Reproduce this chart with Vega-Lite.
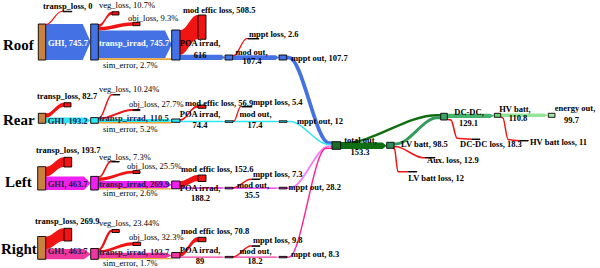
{
"$schema":"https://vega.github.io/schema/vega-lite/v6.json",
"width":600,"height":268,"padding":0,"autosize":{"type":"none"},
"background":"white",
"config":{"view":{"stroke":null}},
"datasets":{
"nodes":[
{"n":"Roof GHI","g":"brown","x":38.3,"x2":45.7,"y":24,"y2":60},
{"n":"Roof transp","g":"roof","x":90.7,"x2":98.3,"y":24,"y2":60},
{"n":"Roof POA","g":"roof","x":171.7,"x2":180,"y":30,"y2":60},
{"n":"Roof mod out","g":"roof","x":225,"x2":232.7,"y":55,"y2":60},
{"n":"Roof mppt out","g":"roof","x":279,"x2":286.7,"y":55,"y2":60},
{"n":"Roof transp_loss","g":"red","x":63,"x2":72,"y":11.3,"y2":11.8},
{"n":"Roof veg_loss","g":"red","x":112,"x2":119,"y":11.7,"y2":15},
{"n":"Roof obj_loss","g":"red","x":133,"x2":140,"y":22.3,"y2":25.7},
{"n":"Roof mod effic loss","g":"red","x":198,"x2":206,"y":15,"y2":39.3},
{"n":"Roof mppt loss","g":"red","x":248,"x2":259,"y":38.5,"y2":39},
{"n":"Rear GHI","g":"brown","x":38.3,"x2":45.7,"y":113.3,"y2":123.3},
{"n":"Rear transp","g":"rear","x":90.7,"x2":98.3,"y":117.6,"y2":123.3},
{"n":"Rear POA","g":"rear","x":171.7,"x2":180,"y":119,"y2":122.3},
{"n":"Rear mod out","g":"rear","x":225,"x2":233,"y":120.8,"y2":122.3},
{"n":"Rear mppt out","g":"rear","x":279,"x2":287,"y":120.8,"y2":122.3},
{"n":"Rear transp_loss","g":"red","x":64,"x2":71,"y":102.7,"y2":106.9},
{"n":"Rear veg_loss","g":"red","x":113,"x2":120,"y":94.5,"y2":95},
{"n":"Rear obj_loss","g":"red","x":133,"x2":140,"y":109.5,"y2":110.6},
{"n":"Rear mod effic loss","g":"red","x":198,"x2":206,"y":105,"y2":108.3},
{"n":"Rear mppt loss","g":"red","x":242,"x2":252,"y":106.5,"y2":107},
{"n":"Left GHI","g":"brown","x":37.7,"x2":45.7,"y":166.7,"y2":190},
{"n":"Left transp","g":"left","x":90.7,"x2":98.3,"y":176.4,"y2":190},
{"n":"Left POA","g":"left","x":171.7,"x2":180,"y":181,"y2":188.8},
{"n":"Left mod out","g":"left","x":225,"x2":233,"y":187.3,"y2":188.9},
{"n":"Left mppt out","g":"left","x":279,"x2":287,"y":187.3,"y2":188.9},
{"n":"Left transp_loss","g":"red","x":64,"x2":71.7,"y":157.3,"y2":167},
{"n":"Left veg_loss","g":"red","x":111.7,"x2":119.3,"y":161.5,"y2":162},
{"n":"Left obj_loss","g":"red","x":133,"x2":140,"y":170.7,"y2":173.5},
{"n":"Left mod effic loss","g":"red","x":198,"x2":206,"y":175,"y2":181.5},
{"n":"Left mppt loss","g":"red","x":252,"x2":260,"y":179,"y2":179.5},
{"n":"Right GHI","g":"brown","x":37.7,"x2":45.7,"y":236.5,"y2":259.3},
{"n":"Right transp","g":"right","x":90.7,"x2":98.3,"y":248.5,"y2":259.3},
{"n":"Right POA","g":"right","x":171.7,"x2":180,"y":252.5,"y2":258},
{"n":"Right mod out","g":"right","x":225,"x2":233,"y":256.4,"y2":257.8},
{"n":"Right mppt out","g":"right","x":279,"x2":287,"y":256.4,"y2":257.8},
{"n":"Right transp_loss","g":"red","x":64,"x2":71.7,"y":228.3,"y2":241},
{"n":"Right veg_loss","g":"red","x":112,"x2":119.3,"y":229.5,"y2":232.5},
{"n":"Right obj_loss","g":"red","x":133,"x2":140.7,"y":242.3,"y2":245.5},
{"n":"Right mod effic loss","g":"red","x":198,"x2":206,"y":237.3,"y2":241.7},
{"n":"Right mppt loss","g":"red","x":252,"x2":260,"y":245.8,"y2":246.3},
{"n":"total out","g":"tgreen","x":332,"x2":340.7,"y":141.7,"y2":149.3},
{"n":"LV batt","g":"lvgreen","x":386.7,"x2":394,"y":142.3,"y2":148.3},
{"n":"DC-DC","g":"dcgreen","x":440.7,"x2":447.3,"y":113.3,"y2":120},
{"n":"HV batt","g":"hvgreen","x":494.3,"x2":500.7,"y":113.3,"y2":117.3},
{"n":"energy out","g":"eogreen","x":548.3,"x2":555,"y":113.3,"y2":117.3},
{"n":"Aux loss","g":"red","x":425,"x2":435,"y":157.5,"y2":158},
{"n":"LV batt loss","g":"red","x":408.3,"x2":417,"y":171.5,"y2":172},
{"n":"DC-DC loss","g":"red","x":472,"x2":480,"y":139,"y2":139.5},
{"n":"HV batt loss","g":"red","x":520,"x2":528.3,"y":140.5,"y2":141}
],
"bands":[
{"id":"Roof GHI","g":"roof","x":45.7,"y":24,"y2":60},
{"id":"Roof GHI","g":"roof","x":82.7,"y":24,"y2":60},
{"id":"Roof GHI","g":"roof","x":90.7,"y":42,"y2":42},
{"id":"Roof transp","g":"roof","x":98.3,"y":30.5,"y2":58.3},
{"id":"Roof transp","g":"roof","x":165,"y":30.5,"y2":58.3},
{"id":"Roof transp","g":"roof","x":171.7,"y":44.4,"y2":44.4},
{"id":"Roof POA","g":"roof","x":180,"y":54.8,"y2":60},
{"id":"Roof POA","g":"roof","x":221.5,"y":54.8,"y2":60},
{"id":"Roof POA","g":"roof","x":225,"y":57.4,"y2":57.4},
{"id":"Roof mod","g":"roof","x":232.7,"y":55.2,"y2":60},
{"id":"Roof mod","g":"roof","x":275.5,"y":55.2,"y2":60},
{"id":"Roof mod","g":"roof","x":279,"y":57.6,"y2":57.6},
{"id":"Rear GHI","g":"rear","x":45.7,"y":117.6,"y2":123.3},
{"id":"Rear GHI","g":"rear","x":86,"y":117.6,"y2":123.3},
{"id":"Rear GHI","g":"rear","x":90.7,"y":120.45,"y2":120.45},
{"id":"Rear transp","g":"rear","x":98.3,"y":119,"y2":122.3},
{"id":"Rear transp","g":"rear","x":168,"y":119,"y2":122.3},
{"id":"Rear transp","g":"rear","x":171.7,"y":120.65,"y2":120.65},
{"id":"Rear POA","g":"rear","x":180,"y":120.8,"y2":122.3},
{"id":"Rear POA","g":"rear","x":222,"y":120.8,"y2":122.3},
{"id":"Rear POA","g":"rear","x":225,"y":121.55,"y2":121.55},
{"id":"Rear mod","g":"rear","x":233,"y":120.8,"y2":122.3},
{"id":"Rear mod","g":"rear","x":276,"y":120.8,"y2":122.3},
{"id":"Rear mod","g":"rear","x":279,"y":121.55,"y2":121.55},
{"id":"Left GHI","g":"left","x":45.7,"y":176.4,"y2":190},
{"id":"Left GHI","g":"left","x":84,"y":176.4,"y2":190},
{"id":"Left GHI","g":"left","x":90.7,"y":183.2,"y2":183.2},
{"id":"Left transp","g":"left","x":98.3,"y":181,"y2":188.6},
{"id":"Left transp","g":"left","x":166,"y":181,"y2":188.6},
{"id":"Left transp","g":"left","x":171.7,"y":184.8,"y2":184.8},
{"id":"Left POA","g":"left","x":180,"y":187.3,"y2":188.8},
{"id":"Left POA","g":"left","x":222,"y":187.3,"y2":188.8},
{"id":"Left POA","g":"left","x":225,"y":188.05,"y2":188.05},
{"id":"Left mod","g":"left","x":233,"y":187.4,"y2":188.8},
{"id":"Left mod","g":"left","x":276,"y":187.4,"y2":188.8},
{"id":"Left mod","g":"left","x":279,"y":188.1,"y2":188.1},
{"id":"Right GHI","g":"right","x":45.7,"y":249,"y2":259.3},
{"id":"Right GHI","g":"right","x":84,"y":249,"y2":259.3},
{"id":"Right GHI","g":"right","x":90.7,"y":254.15,"y2":254.15},
{"id":"Right transp","g":"right","x":98.3,"y":252.8,"y2":258.2},
{"id":"Right transp","g":"right","x":166,"y":252.8,"y2":258.2},
{"id":"Right transp","g":"right","x":171.7,"y":255.5,"y2":255.5},
{"id":"Right POA","g":"right","x":180,"y":256.4,"y2":257.8},
{"id":"Right POA","g":"right","x":222,"y":256.4,"y2":257.8},
{"id":"Right POA","g":"right","x":225,"y":257.1,"y2":257.1},
{"id":"Right mod","g":"right","x":233,"y":256.4,"y2":257.8},
{"id":"Right mod","g":"right","x":276,"y":256.4,"y2":257.8},
{"id":"Right mod","g":"right","x":279,"y":257.1,"y2":257.1},
{"id":"total LV","g":"dkgreen","x":340.7,"y":142.5,"y2":149},
{"id":"total LV","g":"dkgreen","x":382.5,"y":142.5,"y2":149},
{"id":"total LV","g":"dkgreen","x":386.7,"y":145.75,"y2":145.75},
{"id":"DC HV","g":"dcband","x":447.3,"y":113.7,"y2":118},
{"id":"DC HV","g":"dcband","x":490,"y":113.7,"y2":118},
{"id":"DC HV","g":"dcband","x":494.3,"y":115.85,"y2":115.85},
{"id":"HV EO","g":"eoband","x":500.7,"y":113.6,"y2":117},
{"id":"HV EO","g":"eoband","x":544,"y":113.6,"y2":117},
{"id":"HV EO","g":"eoband","x":548.3,"y":115.3,"y2":115.3}
],
"ribbons":[
{"id":"Roof veg","g":"red","x":98.3,"y":24,"y2":27},
{"id":"Roof veg","g":"red","x":99.5,"y":24,"y2":27},
{"id":"Roof veg","g":"red","x":111,"y":11.7,"y2":15},
{"id":"Roof veg","g":"red","x":112,"y":11.7,"y2":15},
{"id":"Roof obj","g":"red","x":98.3,"y":27,"y2":30.5},
{"id":"Roof obj","g":"red","x":99.5,"y":27,"y2":30.5},
{"id":"Roof obj","g":"red","x":132,"y":22.3,"y2":25.7},
{"id":"Roof obj","g":"red","x":133,"y":22.3,"y2":25.7},
{"id":"Roof eff","g":"red","x":180,"y":30,"y2":54.8},
{"id":"Roof eff","g":"red","x":181,"y":30,"y2":54.8},
{"id":"Roof eff","g":"red","x":197,"y":15,"y2":39.3},
{"id":"Roof eff","g":"red","x":198,"y":15,"y2":39.3},
{"id":"Rear tl","g":"red","x":45.7,"y":113.3,"y2":117.6},
{"id":"Rear tl","g":"red","x":46.7,"y":113.3,"y2":117.6},
{"id":"Rear tl","g":"red","x":63,"y":102.7,"y2":106.9},
{"id":"Rear tl","g":"red","x":64,"y":102.7,"y2":106.9},
{"id":"Rear eff","g":"red","x":180,"y":119,"y2":120.8},
{"id":"Rear eff","g":"red","x":181,"y":119,"y2":120.8},
{"id":"Rear eff","g":"red","x":197,"y":105.3,"y2":107.8},
{"id":"Rear eff","g":"red","x":198,"y":105.3,"y2":107.8},
{"id":"Left tl","g":"red","x":45.7,"y":166.7,"y2":176.4},
{"id":"Left tl","g":"red","x":46.7,"y":166.7,"y2":176.4},
{"id":"Left tl","g":"red","x":63,"y":157.3,"y2":167},
{"id":"Left tl","g":"red","x":64,"y":157.3,"y2":167},
{"id":"Left obj","g":"red","x":98.3,"y":177.5,"y2":180.9},
{"id":"Left obj","g":"red","x":99.5,"y":177.5,"y2":180.9},
{"id":"Left obj","g":"red","x":132,"y":170.7,"y2":173.5},
{"id":"Left obj","g":"red","x":133,"y":170.7,"y2":173.5},
{"id":"Left eff","g":"red","x":180,"y":181,"y2":187.3},
{"id":"Left eff","g":"red","x":181,"y":181,"y2":187.3},
{"id":"Left eff","g":"red","x":197,"y":175,"y2":181.3},
{"id":"Left eff","g":"red","x":198,"y":175,"y2":181.3},
{"id":"Right tl","g":"red","x":45.7,"y":236.5,"y2":249},
{"id":"Right tl","g":"red","x":46.7,"y":236.5,"y2":249},
{"id":"Right tl","g":"red","x":63,"y":228.3,"y2":241},
{"id":"Right tl","g":"red","x":64,"y":228.3,"y2":241},
{"id":"Right obj","g":"red","x":98.3,"y":250.3,"y2":252.8},
{"id":"Right obj","g":"red","x":99.5,"y":250.3,"y2":252.8},
{"id":"Right obj","g":"red","x":132,"y":242.3,"y2":245.5},
{"id":"Right obj","g":"red","x":133,"y":242.3,"y2":245.5},
{"id":"Right eff","g":"red","x":180,"y":252.5,"y2":256.4},
{"id":"Right eff","g":"red","x":181,"y":252.5,"y2":256.4},
{"id":"Right eff","g":"red","x":197,"y":237.3,"y2":241.7},
{"id":"Right eff","g":"red","x":198,"y":237.3,"y2":241.7}
],
"lines":[
{"id":"Roof tl","g":"red","v":0,"x":45.7,"y":24.3},
{"id":"Roof tl","g":"red","v":0,"x":47,"y":24.3},
{"id":"Roof tl","g":"red","v":0,"x":61,"y":11.5},
{"id":"Roof tl","g":"red","v":0,"x":63,"y":11.5},
{"id":"Roof mppt","g":"red","v":2.6,"x":232.7,"y":55.5},
{"id":"Roof mppt","g":"red","v":2.6,"x":234,"y":55.5},
{"id":"Roof mppt","g":"red","v":2.6,"x":246.5,"y":38.7},
{"id":"Roof mppt","g":"red","v":2.6,"x":248,"y":38.7},
{"id":"Roof out","g":"roof","v":107.7,"x":286.7,"y":57.6},
{"id":"Roof out","g":"roof","v":107.7,"x":289,"y":57.6},
{"id":"Roof out","g":"roof","v":107.7,"x":329,"y":143},
{"id":"Roof out","g":"roof","v":107.7,"x":332,"y":143},
{"id":"Roof sim","g":"orange","v":20,"x":98.3,"y":59.2},
{"id":"Roof sim","g":"orange","v":20,"x":171.7,"y":59.2},
{"id":"Rear veg","g":"red","v":11.3,"x":98.3,"y":117.9},
{"id":"Rear veg","g":"red","v":11.3,"x":99.5,"y":117.9},
{"id":"Rear veg","g":"red","v":11.3,"x":111.5,"y":94.7},
{"id":"Rear veg","g":"red","v":11.3,"x":113,"y":94.7},
{"id":"Rear obj","g":"red","v":30.6,"x":98.3,"y":118.6},
{"id":"Rear obj","g":"red","v":30.6,"x":99.5,"y":118.6},
{"id":"Rear obj","g":"red","v":30.6,"x":131.5,"y":110},
{"id":"Rear obj","g":"red","v":30.6,"x":133,"y":110},
{"id":"Rear mppt","g":"red","v":5.4,"x":233,"y":121},
{"id":"Rear mppt","g":"red","v":5.4,"x":234,"y":121},
{"id":"Rear mppt","g":"red","v":5.4,"x":240.5,"y":106.7},
{"id":"Rear mppt","g":"red","v":5.4,"x":242,"y":106.7},
{"id":"Rear out","g":"rear","v":12,"x":287,"y":121.5},
{"id":"Rear out","g":"rear","v":12,"x":290,"y":121.5},
{"id":"Rear out","g":"rear","v":12,"x":329,"y":144.5},
{"id":"Rear out","g":"rear","v":12,"x":332,"y":144.5},
{"id":"Rear sim","g":"orange","v":10,"x":98.3,"y":122.8},
{"id":"Rear sim","g":"orange","v":10,"x":171.7,"y":122.8},
{"id":"Left veg","g":"red","v":19.7,"x":98.3,"y":176.9},
{"id":"Left veg","g":"red","v":19.7,"x":99.5,"y":176.9},
{"id":"Left veg","g":"red","v":19.7,"x":110.5,"y":161.7},
{"id":"Left veg","g":"red","v":19.7,"x":111.7,"y":161.7},
{"id":"Left mppt","g":"red","v":7.3,"x":233,"y":187.6},
{"id":"Left mppt","g":"red","v":7.3,"x":234,"y":187.6},
{"id":"Left mppt","g":"red","v":7.3,"x":250.5,"y":179.2},
{"id":"Left mppt","g":"red","v":7.3,"x":252,"y":179.2},
{"id":"Left out","g":"leftout","v":28.2,"x":287,"y":188.1},
{"id":"Left out","g":"leftout","v":28.2,"x":290,"y":188.1},
{"id":"Left out","g":"leftout","v":28.2,"x":329,"y":146.3},
{"id":"Left out","g":"leftout","v":28.2,"x":332,"y":146.3},
{"id":"Left sim","g":"orange","v":7,"x":98.3,"y":188.9},
{"id":"Left sim","g":"orange","v":7,"x":171.7,"y":188.9},
{"id":"Right veg","g":"red","v":45.4,"x":98.3,"y":249.4},
{"id":"Right veg","g":"red","v":45.4,"x":99.5,"y":249.4},
{"id":"Right veg","g":"red","v":45.4,"x":111,"y":231},
{"id":"Right veg","g":"red","v":45.4,"x":112,"y":231},
{"id":"Right mppt","g":"red","v":9.8,"x":233,"y":256.6},
{"id":"Right mppt","g":"red","v":9.8,"x":234,"y":256.6},
{"id":"Right mppt","g":"red","v":9.8,"x":250.5,"y":246},
{"id":"Right mppt","g":"red","v":9.8,"x":252,"y":246},
{"id":"Right out","g":"rightout","v":8.3,"x":287,"y":257.1},
{"id":"Right out","g":"rightout","v":8.3,"x":289,"y":257.1},
{"id":"Right out","g":"rightout","v":8.3,"x":326,"y":148.3},
{"id":"Right out","g":"rightout","v":8.3,"x":332,"y":148.3},
{"id":"Right sim","g":"orange","v":3.3,"x":98.3,"y":258.6},
{"id":"Right sim","g":"orange","v":3.3,"x":171.7,"y":258.6},
{"id":"total DC","g":"dkgreen","v":55.5,"x":340.7,"y":143.2},
{"id":"total DC","g":"dkgreen","v":55.5,"x":343,"y":143.2},
{"id":"total DC","g":"dkgreen","v":55.5,"x":437,"y":115.2},
{"id":"total DC","g":"dkgreen","v":55.5,"x":440.7,"y":115.2},
{"id":"LV DC","g":"midgreen","v":73.6,"x":394,"y":144},
{"id":"LV DC","g":"midgreen","v":73.6,"x":396,"y":144},
{"id":"LV DC","g":"midgreen","v":73.6,"x":437,"y":117.8},
{"id":"LV DC","g":"midgreen","v":73.6,"x":440.7,"y":117.8},
{"id":"Aux","g":"red","v":12.9,"x":394,"y":146.8},
{"id":"Aux","g":"red","v":12.9,"x":396,"y":146.8},
{"id":"Aux","g":"red","v":12.9,"x":423,"y":157.7},
{"id":"Aux","g":"red","v":12.9,"x":425,"y":157.7},
{"id":"LV loss","g":"red","v":12,"x":393,"y":148.3},
{"id":"LV loss","g":"red","v":12,"x":394.5,"y":149},
{"id":"LV loss","g":"red","v":12,"x":398,"y":171.7},
{"id":"LV loss","g":"red","v":12,"x":408.3,"y":171.7},
{"id":"DC loss","g":"red","v":18.3,"x":447.3,"y":119.5},
{"id":"DC loss","g":"red","v":18.3,"x":451,"y":120},
{"id":"DC loss","g":"red","v":18.3,"x":457,"y":138.3},
{"id":"DC loss","g":"red","v":18.3,"x":472,"y":139.3},
{"id":"HV loss","g":"red","v":11,"x":500.7,"y":117.2},
{"id":"HV loss","g":"red","v":11,"x":503,"y":118},
{"id":"HV loss","g":"red","v":11,"x":508,"y":139.5},
{"id":"HV loss","g":"red","v":11,"x":520,"y":140.7}
],
"texts":[
{"k":"row","t":"Roof","x":3,"y":45},
{"k":"row","t":"Rear","x":3,"y":120},
{"k":"row","t":"Left","x":5,"y":182},
{"k":"row","t":"Right","x":1,"y":249},
{"k":"lbl","t":"transp_loss, 0","x":43,"y":5.5},
{"k":"lbl","t":"mod effic loss, 508.5","x":183,"y":9.5},
{"k":"lbl","t":"mppt loss, 2.6","x":249,"y":33.5},
{"k":"lbl","t":"mppt out, 107.7","x":291,"y":57.7},
{"k":"lbl","t":"transp_loss, 82.7","x":37,"y":96},
{"k":"lbl","t":"mod effic loss, 56.9","x":185,"y":102.7},
{"k":"lbl","t":"mppt loss, 5.4","x":253,"y":101.7},
{"k":"lbl","t":"mppt out, 12","x":297,"y":121},
{"k":"lbl","t":"transp_loss, 193.7","x":36,"y":150},
{"k":"lbl","t":"mod effic loss, 152.6","x":181,"y":169.3},
{"k":"lbl","t":"mppt loss, 7.3","x":253,"y":174.3},
{"k":"lbl","t":"mppt out, 28.2","x":288.5,"y":187.3},
{"k":"lbl","t":"transp_loss, 269.9","x":35,"y":221},
{"k":"lbl","t":"mod effic loss, 70.8","x":181,"y":231},
{"k":"lbl","t":"mppt loss, 9.8","x":253,"y":240},
{"k":"lbl","t":"mppt out, 8.3","x":291,"y":254.3},
{"k":"lbl","t":"LV batt, 98.5","x":401,"y":143.5},
{"k":"lbl","t":"Aux. loss, 12.9","x":427,"y":160},
{"k":"lbl","t":"LV batt loss, 12","x":408.3,"y":177.5},
{"k":"lbl","t":"DC-DC loss, 18.3","x":460,"y":144},
{"k":"lbl","t":"HV batt loss, 11","x":530,"y":141.7},
{"k":"lblc","t":"POA irrad,","x":200,"y":42.5},
{"k":"lblc","t":"616","x":200,"y":55},
{"k":"lblc","t":"mod out,","x":251.5,"y":51.5},
{"k":"lblc","t":"107.4","x":252,"y":61},
{"k":"lblc","t":"POA irrad,","x":200,"y":114.3},
{"k":"lblc","t":"74.4","x":200,"y":125},
{"k":"lblc","t":"mod out,","x":255.5,"y":114.3},
{"k":"lblc","t":"17.4","x":255,"y":125},
{"k":"lblc","t":"POA irrad,","x":200,"y":188.3},
{"k":"lblc","t":"188.2","x":200.5,"y":198.3},
{"k":"lblc","t":"mod out,","x":253,"y":185},
{"k":"lblc","t":"35.5","x":252,"y":195},
{"k":"lblc","t":"POA irrad,","x":200,"y":250},
{"k":"lblc","t":"89","x":200,"y":260.7},
{"k":"lblc","t":"mod out,","x":255.5,"y":250.7},
{"k":"lblc","t":"18.2","x":255,"y":260.7},
{"k":"lblc","t":"total out,","x":360.5,"y":140},
{"k":"lblc","t":"153.3","x":360,"y":151.7},
{"k":"lblc","t":"DC-DC,","x":469,"y":111.7},
{"k":"lblc","t":"129.1","x":468.5,"y":122.7},
{"k":"lblc","t":"HV batt,","x":515,"y":109.3},
{"k":"lblc","t":"110.8","x":518,"y":118.3},
{"k":"lblc","t":"energy out,","x":575,"y":108.3},
{"k":"lblc","t":"99.7","x":571.5,"y":120},
{"k":"pct","t":"veg_loss, 10.7%","x":99,"y":5},
{"k":"pct","t":"obj_loss, 9.3%","x":128,"y":17.5},
{"k":"pct","t":"sim_error, 2.7%","x":103,"y":64.5},
{"k":"pct","t":"veg_loss, 10.24%","x":99,"y":89},
{"k":"pct","t":"obj_loss, 27.7%","x":129,"y":104},
{"k":"pct","t":"sim_error, 5.2%","x":103,"y":128.5},
{"k":"pct","t":"veg_loss, 7.3%","x":99,"y":156.5},
{"k":"pct","t":"obj_loss, 25.5%","x":127,"y":166.3},
{"k":"pct","t":"sim_error, 2.6%","x":103,"y":193.3},
{"k":"pct","t":"veg_loss, 23.44%","x":99,"y":223.3},
{"k":"pct","t":"obj_loss, 32.3%","x":129,"y":237.3},
{"k":"pct","t":"sim_error, 1.7%","x":103,"y":263.3},
{"k":"inw","t":"GHI, 745.7","x":48,"y":43},
{"k":"inw","t":"transp_irrad, 745.7","x":99,"y":43},
{"k":"ind","t":"GHI, 193.2","x":47.7,"y":121},
{"k":"ind","t":"transp_irrad, 110.5","x":99,"y":118},
{"k":"ind","t":"GHI, 463.7","x":47.7,"y":184},
{"k":"ind","t":"transp_irrad, 269.9","x":99,"y":184},
{"k":"ind","t":"GHI, 463.7","x":47.7,"y":251},
{"k":"ind","t":"transp_irrad, 193.7","x":99,"y":252}
]
},
"encoding":{
"x":{"field":"x","type":"quantitative","axis":null,"scale":{"domain":[0,600],"range":[0,600],"nice":false,"zero":false}},
"y":{"field":"y","type":"quantitative","axis":null,"stack":null,"scale":{"domain":[0,268],"range":[0,268],"nice":false,"zero":false}}
},
"layer":[
{"data":{"name":"bands"},"mark":{"type":"area","interpolate":"linear"},
 "encoding":{"y2":{"field":"y2"},"detail":{"field":"id"},
  "color":{"field":"g","type":"nominal","legend":null,"scale":{"domain":["brown","roof","rear","left","right","leftout","rightout","red","orange","dkgreen","tgreen","midgreen","lvgreen","dcgreen","dcband","hvgreen","eoband","eogreen"],"range":["#c8823e","#4472e4","#2ee6f2","#f020f0","#f0369f","#f77ef7","#ff1f96","#f01414","#e8a636","#0f6e12","#1d6b2a","#329a5c","#2f8b58","#3ca466","#46b46e","#6fcf74","#96e496","#a6eaa6"]}}}},
{"data":{"name":"ribbons"},"mark":{"type":"area","interpolate":"monotone"},
 "encoding":{"y2":{"field":"y2"},"detail":{"field":"id"},
  "color":{"field":"g","type":"nominal","legend":null}}},
{"data":{"name":"lines"},"mark":{"type":"line","interpolate":"monotone"},
 "encoding":{"detail":{"field":"id"},
  "color":{"field":"g","type":"nominal","legend":null},
  "strokeWidth":{"field":"v","type":"quantitative","legend":null,"scale":{"domain":[0,110],"range":[1.2,3.8]}}}},
{"data":{"name":"nodes"},"mark":{"type":"rect","stroke":"black","strokeWidth":0.9},
 "encoding":{"x2":{"field":"x2"},"y2":{"field":"y2"},
  "color":{"field":"g","type":"nominal","legend":null}}},
{"data":{"name":"texts"},"transform":[{"filter":"datum.k==='row'"}],
 "mark":{"type":"text","font":"Liberation Serif","fontSize":15,"fontWeight":"bold","align":"left","baseline":"middle","color":"black"},
 "encoding":{"text":{"field":"t"}}},
{"data":{"name":"texts"},"transform":[{"filter":"datum.k==='lbl'"}],
 "mark":{"type":"text","font":"Liberation Serif","fontSize":8.5,"fontWeight":"bold","align":"left","baseline":"middle","color":"black"},
 "encoding":{"text":{"field":"t"}}},
{"data":{"name":"texts"},"transform":[{"filter":"datum.k==='lblc'"}],
 "mark":{"type":"text","font":"Liberation Serif","fontSize":8.5,"fontWeight":"bold","align":"center","baseline":"middle","color":"black"},
 "encoding":{"text":{"field":"t"}}},
{"data":{"name":"texts"},"transform":[{"filter":"datum.k==='pct'"}],
 "mark":{"type":"text","font":"Liberation Serif","fontSize":8.5,"align":"left","baseline":"middle","color":"black"},
 "encoding":{"text":{"field":"t"}}},
{"data":{"name":"texts"},"transform":[{"filter":"datum.k==='inw'"}],
 "mark":{"type":"text","font":"Liberation Serif","fontSize":8.5,"fontWeight":"bold","align":"left","baseline":"middle","color":"white"},
 "encoding":{"text":{"field":"t"}}},
{"data":{"name":"texts"},"transform":[{"filter":"datum.k==='ind'"}],
 "mark":{"type":"text","font":"Liberation Serif","fontSize":8.5,"fontWeight":"bold","align":"left","baseline":"middle","color":"#1c1c44"},
 "encoding":{"text":{"field":"t"}}}
]
}
